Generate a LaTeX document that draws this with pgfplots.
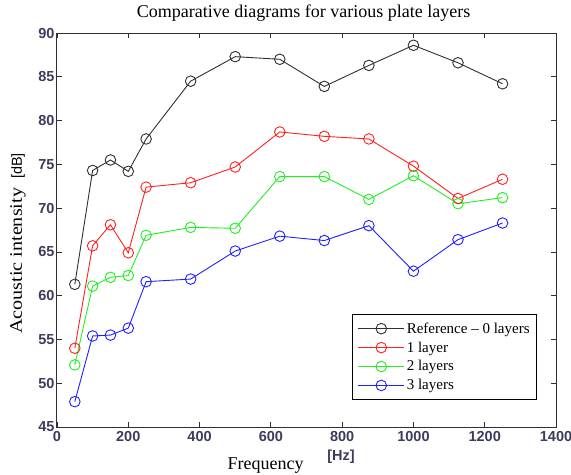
\documentclass[border=0pt]{standalone}
\usepackage{pgfplots}
\pgfplotsset{compat=1.18}
\usepackage{fontspec}
\setmainfont{Liberation Serif}
\setsansfont{Liberation Sans}

\definecolor{tickc}{HTML}{3C3C5C}
\definecolor{refc}{HTML}{303030}
\definecolor{onec}{HTML}{FF2020}
\definecolor{twoc}{HTML}{20F020}
\definecolor{threec}{HTML}{2020FF}

\begin{document}
\begin{tikzpicture}
\begin{axis}[
    scale only axis,
    width=499pt, height=394pt,
    clip=false,
    xmin=0, xmax=1400, ymin=45, ymax=90,
    xtick={0,200,...,1400},
    ytick={45,50,...,90},
    tick align=inside,
    major tick length=5pt,
    tick style={color=refc, line width=0.8pt},
    axis line style={color=refc, line width=1pt},
    tick label style={font=\fontsize{14.5}{16}\selectfont\sffamily\bfseries, text=tickc},
    /pgf/number format/assume math mode=true,
    /pgf/number format/1000 sep={},
    yticklabel style={xshift=1pt},
    xticklabel style={yshift=-1pt},
    legend style={at={(0.962,0.069)}, anchor=south east,
        draw=black, line width=0.9pt, fill=white,
        font=\fontsize{15}{17}\selectfont, row sep=3pt,
        inner xsep=5pt, inner ysep=6pt,
        nodes={inner xsep=2pt}},
    legend cell align=left,
    legend image code/.code={
        \draw[mark repeat=2, mark phase=2, #1] plot coordinates {(0pt,0pt) (23pt,0pt) (46pt,0pt)};
    },
    every axis plot/.append style={line width=0.9pt, mark=o, mark size=5.3pt, mark options={solid, fill=none}},
]
\addplot[color=refc] coordinates {
    (50,61.3) (100,74.3) (150,75.5) (200,74.2) (250,77.9) (375,84.5) (500,87.3)
    (625,87.0) (750,83.9) (875,86.3) (1000,88.6) (1125,86.6) (1250,84.2)};
\addplot[color=onec] coordinates {
    (50,54.0) (100,65.7) (150,68.1) (200,64.9) (250,72.4) (375,72.9) (500,74.7)
    (625,78.7) (750,78.2) (875,77.9) (1000,74.8) (1125,71.1) (1250,73.3)};
\addplot[color=twoc] coordinates {
    (50,52.1) (100,61.1) (150,62.1) (200,62.3) (250,66.9) (375,67.8) (500,67.7)
    (625,73.6) (750,73.6) (875,71.0) (1000,73.7) (1125,70.5) (1250,71.2)};
\addplot[color=threec] coordinates {
    (50,47.9) (100,55.4) (150,55.5) (200,56.3) (250,61.6) (375,61.9) (500,65.1)
    (625,66.8) (750,66.3) (875,68.0) (1000,62.8) (1125,66.4) (1250,68.3)};
\legend{Reference -- 0 layers, 1 layer, 2 layers, 3 layers}

\node[font=\fontsize{18}{20}\selectfont] at (rel axis cs:0.494,1.051) {Comparative diagrams for various plate layers};
\node[rotate=90] at (rel axis cs:-0.078,0.466)
    {\scalebox{1.15}[1]{\fontsize{17.5}{20}\selectfont Acoustic intensity}\hspace{9pt}{\sffamily\fontsize{14.5}{16}\selectfont [dB]}};
\node[font=\fontsize{18}{20}\selectfont] at (rel axis cs:0.418,-0.098) {Frequency};
\node[font=\fontsize{14.5}{16}\selectfont\sffamily\bfseries, text=tickc] at (rel axis cs:0.569,-0.076) {[Hz]};

\coordinate (bl) at (rel axis cs:-0.1142,-0.1193);
\coordinate (tr) at (rel axis cs:1.030,1.0838);
\end{axis}
\pgfresetboundingbox
\path[use as bounding box] (bl) rectangle (tr);
\end{tikzpicture}
\end{document}
